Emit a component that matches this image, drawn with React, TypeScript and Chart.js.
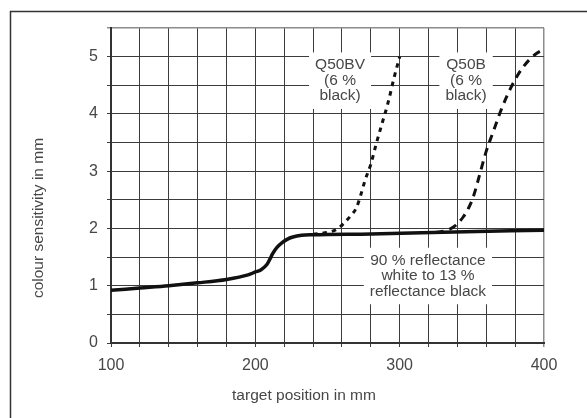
import React, { useEffect, useRef } from 'react';
import { Chart, registerables } from 'chart.js';

Chart.register(...registerables);

// ---- data ----
const solidX = [100, 120, 140, 160, 180, 195, 200, 204, 208, 210, 212, 215, 219, 222, 226, 232, 240, 280, 330, 400];
const solidY = [0.92, 0.96, 1.0, 1.05, 1.11, 1.19, 1.24, 1.28, 1.37, 1.46, 1.56, 1.67, 1.76, 1.81, 1.85, 1.88, 1.89, 1.905, 1.935, 1.97];

const q50bvX = [240, 250, 256, 261, 266, 270, 273, 276, 280, 284, 288, 292, 296, 300];
const q50bvY = [1.9, 1.93, 1.98, 2.08, 2.22, 2.36, 2.58, 2.84, 3.12, 3.5, 3.85, 4.2, 4.62, 5.0];

const q50bX = [325, 333, 339, 344, 348, 351, 355, 360, 365, 370, 375, 380, 385, 390, 395, 400];
const q50bY = [1.93, 1.97, 2.06, 2.2, 2.37, 2.55, 2.9, 3.35, 3.7, 4.05, 4.35, 4.6, 4.8, 4.95, 5.06, 5.13];

const xTickLabels = [100, 200, 300, 400];
const yTickLabels = [0, 1, 2, 3, 4, 5];

const labelQ50BV = ['Q50BV', '(6 %', 'black)'];
const labelQ50B = ['Q50B', '(6 %', 'black)'];
const labelRefl = ['90 % reflectance', 'white to 13 %', 'reflectance black'];

const annotations = [
  { lines: labelQ50BV, x: 258.7, y: 4.58 },
  { lines: labelQ50B, x: 346, y: 4.58 },
  { lines: labelRefl, x: 319.6, y: 1.17 },
];

const TEXT = '#474747';
const FONT_FAMILY = '"Liberation Sans", Arial, Helvetica, sans-serif';

const toPoints = (xs: number[], ys: number[]) => xs.map((x, i) => ({ x, y: ys[i] }));

const framePlugin = {
  id: 'frame',
  beforeDraw(chart: any) {
    const ctx = chart.ctx;
    ctx.save();
    ctx.fillStyle = '#ffffff';
    ctx.fillRect(0, 0, chart.width, chart.height);
    ctx.strokeStyle = '#333333';
    ctx.lineWidth = 1.5;
    ctx.beginPath();
    ctx.moveTo(10.5, chart.height + 2);
    ctx.lineTo(10.5, 11.5);
    ctx.lineTo(chart.width + 2, 11.5);
    ctx.stroke();
    ctx.restore();
  },
  afterDraw(chart: any) {
    const ctx = chart.ctx;
    ctx.save();
    ctx.fillStyle = TEXT;
    ctx.font = `15.5px ${FONT_FAMILY}`;
    ctx.textAlign = 'center';
    ctx.textBaseline = 'middle';
    ctx.fillText('target position in mm', 304, 396);
    ctx.translate(39, 218);
    ctx.rotate(-Math.PI / 2);
    ctx.fillText('colour sensitivity in mm', 0, 0);
    ctx.restore();
  },
};

const labelPlugin = {
  id: 'boxLabels',
  beforeDatasetsDraw(chart: any) {
    const ctx = chart.ctx;
    const xs = chart.scales.x;
    const ys = chart.scales.y;
    const lh = 15.5;
    ctx.save();
    ctx.font = `15.5px ${FONT_FAMILY}`;
    ctx.textAlign = 'center';
    ctx.textBaseline = 'middle';
    annotations.forEach((a) => {
      const cx = xs.getPixelForValue(a.x);
      const cy = ys.getPixelForValue(a.y);
      const w = Math.max(...a.lines.map((l) => ctx.measureText(l).width)) + 12;
      const h = a.lines.length * lh + 10;
      ctx.fillStyle = '#ffffff';
      ctx.fillRect(cx - w / 2, cy - h / 2, w, h);
      ctx.fillStyle = TEXT;
      a.lines.forEach((l, i) => {
        ctx.fillText(l, cx, cy + (i - (a.lines.length - 1) / 2) * lh);
      });
    });
    ctx.restore();
  },
};

export default function App() {
  const ref = useRef<HTMLCanvasElement>(null);

  useEffect(() => {
    document.body.style.margin = '0';
    const canvas = ref.current;
    if (!canvas) return;

    const gridColor = (max: number) => (ctx: any) =>
      ctx.tick && Math.abs(ctx.tick.value - max) < 1e-9 ? '#8c8c8c' : '#3c3c3c';
    const gridWidth = (max: number) => (ctx: any) =>
      ctx.tick && Math.abs(ctx.tick.value - max) < 1e-9 ? 1.5 : 1;

    const chart = new Chart(canvas, {
      type: 'line',
      data: {
        datasets: [
          {
            label: 'Q50BV',
            data: toPoints(q50bvX, q50bvY),
            borderColor: '#111111',
            borderWidth: 3,
            borderDash: [4.5, 5],
            cubicInterpolationMode: 'monotone',
            pointRadius: 0,
            fill: false,
          },
          {
            label: 'Q50B',
            data: toPoints(q50bX, q50bY),
            borderColor: '#111111',
            borderWidth: 3,
            borderDash: [8, 6],
            cubicInterpolationMode: 'monotone',
            pointRadius: 0,
            fill: false,
          },
          {
            label: '90 % reflectance white to 13 % reflectance black',
            data: toPoints(solidX, solidY),
            borderColor: '#111111',
            borderWidth: 3.5,
            cubicInterpolationMode: 'monotone',
            pointRadius: 0,
            fill: false,
          },
        ],
      },
      options: {
        responsive: false,
        animation: false,
        layout: { padding: { left: 0, top: 28, right: 43, bottom: 0 } },
        plugins: {
          legend: { display: false },
          tooltip: { enabled: false },
        },
        scales: {
          x: {
            type: 'linear',
            min: 100,
            max: 400,
            ticks: {
              stepSize: 20,
              autoSkip: false,
              maxRotation: 0,
              padding: 9,
              color: TEXT,
              font: { size: 16, family: FONT_FAMILY },
              callback: (v: any) => (xTickLabels.includes(Number(v)) ? String(v) : ''),
            },
            grid: {
              color: gridColor(400),
              lineWidth: gridWidth(400),
              tickLength: 4,
            },
            border: { color: '#333333', width: 2 },
            afterFit: (s: any) => {
              s.height = 75;
            },
          },
          y: {
            type: 'linear',
            min: 0,
            max: 5.5,
            ticks: {
              stepSize: 0.5,
              autoSkip: false,
              padding: 9,
              color: TEXT,
              font: { size: 16, family: FONT_FAMILY },
              callback: (v: any) => (yTickLabels.includes(Number(v)) ? String(v) : ''),
            },
            grid: {
              color: gridColor(5.5),
              lineWidth: gridWidth(5.5),
              tickLength: 4,
            },
            border: { color: '#333333', width: 2 },
            afterFit: (s: any) => {
              s.width = 111;
            },
          },
        },
      },
      plugins: [framePlugin, labelPlugin],
    } as any);

    return () => chart.destroy();
  }, []);

  return (
    <canvas
      ref={ref}
      width={587}
      height={418}
      style={{ display: 'block', width: 587, height: 418 }}
    />
  );
}
